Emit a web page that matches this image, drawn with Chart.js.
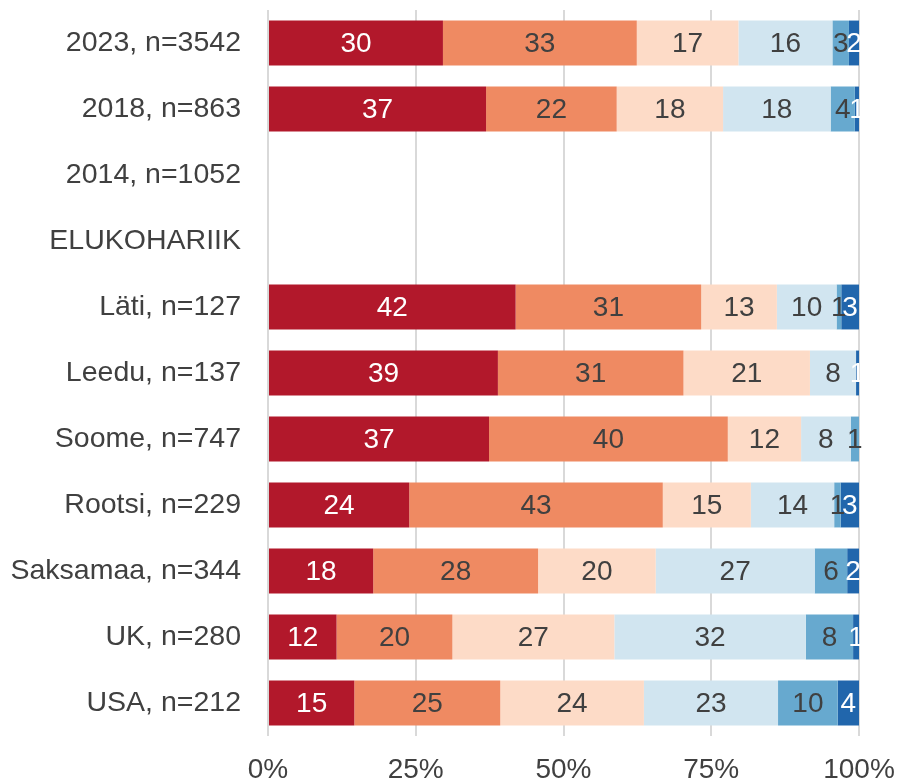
<!DOCTYPE html>
<html>
<head>
<meta charset="utf-8">
<script src="https://cdn.jsdelivr.net/npm/chart.js@4/dist/chart.umd.min.js"></script>
<style>
  html, body { margin: 0; padding: 0; background: #fff; }
  #wrap { width: 899px; height: 781px; }
</style>
</head>
<body>
<div id="wrap"><canvas id="chart"></canvas></div>
<script>
const categories = ['2023, n=3542', '2018, n=863', '2014, n=1052', 'ELUKOHARIIK',
  'Läti, n=127', 'Leedu, n=137', 'Soome, n=747', 'Rootsi, n=229',
  'Saksamaa, n=344', 'UK, n=280', 'USA, n=212'];

// shares per answer group (%), top to bottom
const group1 = [29.6, 36.9, null, null, 41.9, 38.9, 37.4, 23.9, 17.8, 11.6, 14.6];
const group2 = [32.8, 22.1, null, null, 31.4, 31.4, 40.4, 42.9, 27.9, 19.6, 24.7];
const group3 = [17.2, 18.0, null, null, 12.8, 21.4, 12.4, 14.9, 19.9, 27.4, 24.3];
const group4 = [15.9, 18.2, null, null, 10.1, 7.8, 8.4, 14.1, 26.9, 32.4, 22.7];
const group5 = [2.8, 4.1, null, null, 0.8, 0, 1.4, 1.1, 5.5, 8.0, 10.1];
const group6 = [1.7, 0.7, null, null, 3.0, 0.5, 0, 3.1, 2.0, 1.0, 3.6];

const xTicks = ['0%', '25%', '50%', '75%', '100%'];

const colors = ['#b2182b', '#ef8a62', '#fddbc7', '#d1e5f0', '#67a9cf', '#2166ac'];
const labelColors = ['#ffffff', '#404040', '#404040', '#404040', '#404040', '#ffffff'];

const series = [group1, group2, group3, group4, group5, group6];
const fontFamily = '"Liberation Sans", Arial, sans-serif';

const segmentLabels = {
  id: 'segmentLabels',
  afterDatasetsDraw(chart) {
    const ctx = chart.ctx;
    ctx.save();
    ctx.font = '28px ' + fontFamily;
    ctx.textAlign = 'center';
    ctx.textBaseline = 'middle';
    chart.data.datasets.forEach((ds, i) => {
      const meta = chart.getDatasetMeta(i);
      meta.data.forEach((bar, j) => {
        const v = ds.data[j];
        if (v == null || v <= 0) return;
        ctx.fillStyle = labelColors[i];
        ctx.fillText(String(Math.round(v)), (bar.x + bar.base) / 2, bar.y + 1);
      });
    });
    ctx.restore();
  }
};

new Chart(document.getElementById('chart'), {
  type: 'bar',
  data: {
    labels: categories,
    datasets: series.map((d, i) => ({
      label: 'g' + (i + 1),
      data: d,
      backgroundColor: colors[i],
      borderWidth: 0,
      barPercentage: 0.68,
      categoryPercentage: 1
    }))
  },
  options: {
    indexAxis: 'y',
    responsive: true,
    maintainAspectRatio: false,
    animation: false,
    layout: { padding: { top: 10, right: 40, bottom: 0, left: 10 } },
    scales: {
      x: {
        stacked: true,
        min: 0,
        max: 100,
        border: { display: false },
        grid: { color: '#d9d9d9', lineWidth: 2, drawTicks: false },
        ticks: {
          stepSize: 25,
          padding: 17,
          color: '#404040',
          font: { family: fontFamily, size: 28 },
          callback: (v, i) => xTicks[i]
        },
        afterFit: (scale) => {
          scale.height = 45;
          scale.paddingLeft = 0;
          scale.paddingRight = 0;
        }
      },
      y: {
        stacked: true,
        border: { display: false },
        grid: { display: false, drawTicks: false },
        ticks: {
          padding: 27,
          color: '#404040',
          font: { family: fontFamily, size: 28.5 }
        },
        afterFit: (scale) => {
          scale.width = 258;
          scale.paddingTop = 0;
          scale.paddingBottom = 0;
        }
      }
    },
    plugins: {
      legend: { display: false },
      tooltip: { enabled: false }
    }
  },
  plugins: [segmentLabels]
});
</script>
</body>
</html>
